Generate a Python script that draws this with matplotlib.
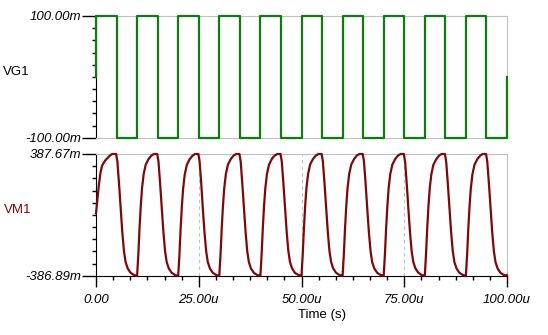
import matplotlib
matplotlib.use("Agg")
import matplotlib.pyplot as plt
from matplotlib.ticker import FixedLocator

plt.rcParams['font.family'] = ['Liberation Sans', 'DejaVu Sans']

# VG1 square wave, time in us, value in mV (steps-post)
vg1_time = [0, 0, 5, 10, 15, 20, 25, 30, 35, 40, 45, 50, 55, 60, 65, 70, 75, 80, 85, 90, 95, 100]
vg1_val = [0, 100, -100, 100, -100, 100, -100, 100, -100, 100, -100,
           100, -100, 100, -100, 100, -100, 100, -100, 100, -100, 0]

# VM1 response, one row per 10us cycle
vm1_time = [
    [0.0, 0.3, 0.7, 1.1, 1.5, 2.2, 2.8, 3.4, 3.9, 4.9,
     5.2, 5.6, 6.0, 6.4, 6.8, 7.2, 7.7, 8.4, 9.2, 9.8],
    [10.0, 10.3, 10.6, 10.9, 11.2, 11.6, 12.1, 12.8, 13.5, 14.1, 14.9,
     15.2, 15.6, 16.0, 16.4, 16.8, 17.2, 17.7, 18.4, 19.2, 19.8],
    [20.0, 20.3, 20.6, 20.9, 21.2, 21.6, 22.1, 22.8, 23.5, 24.1, 24.9,
     25.2, 25.6, 26.0, 26.4, 26.8, 27.2, 27.7, 28.4, 29.2, 29.8],
    [30.0, 30.3, 30.6, 30.9, 31.2, 31.6, 32.1, 32.8, 33.5, 34.1, 34.9,
     35.2, 35.6, 36.0, 36.4, 36.8, 37.2, 37.7, 38.4, 39.2, 39.8],
    [40.0, 40.3, 40.6, 40.9, 41.2, 41.6, 42.1, 42.8, 43.5, 44.1, 44.9,
     45.2, 45.6, 46.0, 46.4, 46.8, 47.2, 47.7, 48.4, 49.2, 49.8],
    [50.0, 50.3, 50.6, 50.9, 51.2, 51.6, 52.1, 52.8, 53.5, 54.1, 54.9,
     55.2, 55.6, 56.0, 56.4, 56.8, 57.2, 57.7, 58.4, 59.2, 59.8],
    [60.0, 60.3, 60.6, 60.9, 61.2, 61.6, 62.1, 62.8, 63.5, 64.1, 64.9,
     65.2, 65.6, 66.0, 66.4, 66.8, 67.2, 67.7, 68.4, 69.2, 69.8],
    [70.0, 70.3, 70.6, 70.9, 71.2, 71.6, 72.1, 72.8, 73.5, 74.1, 74.9,
     75.2, 75.6, 76.0, 76.4, 76.8, 77.2, 77.7, 78.4, 79.2, 79.8],
    [80.0, 80.3, 80.6, 80.9, 81.2, 81.6, 82.1, 82.8, 83.5, 84.1, 84.9,
     85.2, 85.6, 86.0, 86.4, 86.8, 87.2, 87.7, 88.4, 89.2, 89.8],
    [90.0, 90.3, 90.6, 90.9, 91.2, 91.6, 92.1, 92.8, 93.5, 94.1, 94.9,
     95.2, 95.6, 96.0, 96.4, 96.8, 97.2, 97.7, 98.4, 99.2, 99.8, 100.0],
]
vm1_val = [
    [10, 90, 190, 270, 315, 345, 362, 378, 387.67, 387.67,
     340, 200, 40, -110, -230, -300, -340, -368, -382, -386.89],
    [-386.89, -250, -80, 60, 170, 260, 320, 356, 378, 387.67, 387.67,
     340, 200, 40, -110, -230, -300, -340, -368, -382, -386.89],
    [-386.89, -252, -82, 58, 168, 258, 319, 355, 377, 387.67, 387.67,
     342, 202, 38, -112, -230, -300, -340, -368, -382, -386.89],
    [-386.89, -250, -80, 60, 170, 260, 320, 356, 378, 387.67, 387.67,
     340, 198, 40, -110, -232, -301, -341, -368, -383, -386.89],
    [-386.89, -248, -78, 62, 171, 261, 320, 357, 378, 387.67, 387.67,
     340, 200, 40, -110, -230, -300, -340, -369, -382, -386.89],
    [-386.89, -250, -80, 60, 170, 260, 321, 356, 378, 387.67, 387.67,
     341, 200, 41, -109, -230, -299, -340, -368, -382, -386.89],
    [-386.89, -251, -81, 59, 170, 259, 320, 356, 379, 387.67, 387.67,
     340, 200, 39, -111, -231, -300, -340, -368, -382, -386.89],
    [-386.89, -250, -80, 60, 170, 260, 320, 356, 378, 387.67, 387.67,
     340, 201, 40, -110, -230, -300, -339, -367, -382, -386.89],
    [-386.89, -249, -79, 61, 169, 260, 320, 355, 378, 387.67, 387.67,
     340, 200, 40, -110, -229, -300, -340, -368, -381, -386.89],
    [-386.89, -250, -80, 60, 170, 260, 320, 356, 378, 387.67, 387.67,
     340, 200, 40, -110, -230, -300, -340, -368, -382, -386.89, -383],
]

x_ticks = [0, 25, 50, 75, 100]
x_labels = ['0.00', '25.00u', '50.00u', '75.00u', '100.00u']
vg1_lim = [-100, 100]
vg1_labels = ['-100.00m', '100.00m']
vm1_lim = [-386.89, 387.67]
vm1_labels = ['-386.89m', '387.67m']

green = '#137a13'
darkred = '#7a0a0a'
grey = '#c0c0c0'

fig = plt.figure(figsize=(5.48, 3.35), dpi=100)
top = fig.add_axes([96 / 548, 1 - 137.7 / 335, 411 / 548, 121.7 / 335])
bot = fig.add_axes([96 / 548, 1 - 275.7 / 335, 411 / 548, 121.7 / 335])


def style_axis(ax, lim, labels, show_x):
    ax.set_xlim(0, 100)
    ax.set_ylim(lim[0], lim[1])
    ax.set_yticks(lim)
    ax.set_yticklabels(labels, fontstyle='italic', fontsize=9.5)
    ax.yaxis.set_minor_locator(FixedLocator([lim[0] + (lim[1] - lim[0]) * i / 10 for i in range(1, 10)]))
    ax.tick_params(axis='y', which='major', direction='out', length=10, width=1, pad=0.5)
    ax.tick_params(axis='y', which='minor', direction='out', length=3, width=1)
    ax.spines['top'].set_color(grey)
    ax.spines['right'].set_color(grey)
    ax.spines['left'].set_color('black')
    for x in [25, 50, 75]:
        ax.axvline(x, color=grey, linestyle=(0, (3, 3)), linewidth=0.8, zorder=0)
    if show_x:
        ax.set_xticks(x_ticks)
        ax.set_xticklabels(x_labels, fontstyle='italic', fontsize=9.5)
        ax.xaxis.set_minor_locator(FixedLocator([i * 25 / 6 for i in range(25)]))
        ax.tick_params(axis='x', which='major', direction='out', length=8, width=1, pad=5)
        ax.tick_params(axis='x', which='minor', direction='out', length=3, width=1)
        ax.spines['bottom'].set_color('black')
    else:
        ax.set_xticks([])
        ax.spines['bottom'].set_color(grey)


style_axis(top, vg1_lim, vg1_labels, False)
style_axis(bot, vm1_lim, vm1_labels, True)

# lines go above the spines so the flat tops are not greyed out
top.plot(vg1_time, vg1_val, drawstyle='steps-post', color=green, linewidth=1.6,
         clip_on=False, zorder=3)

t_all = [t for row in vm1_time for t in row]
v_all = [v for row in vm1_val for v in row]
bot.plot(t_all, v_all, color=darkred, linewidth=1.6, clip_on=False, zorder=3)

fig.text(16.5 / 548, 1 - 72 / 335, 'VG1', fontsize=9.5, ha='center', va='center', color='black')
fig.text(17.5 / 548, 1 - 210 / 335, 'VM1', fontsize=9.5, ha='center', va='center', color=darkred)
fig.text(321.5 / 548, 1 - 315 / 335, 'Time (s)', fontsize=9.5, ha='center', va='center')

plt.savefig('out.png', dpi=100)
plt.close()
